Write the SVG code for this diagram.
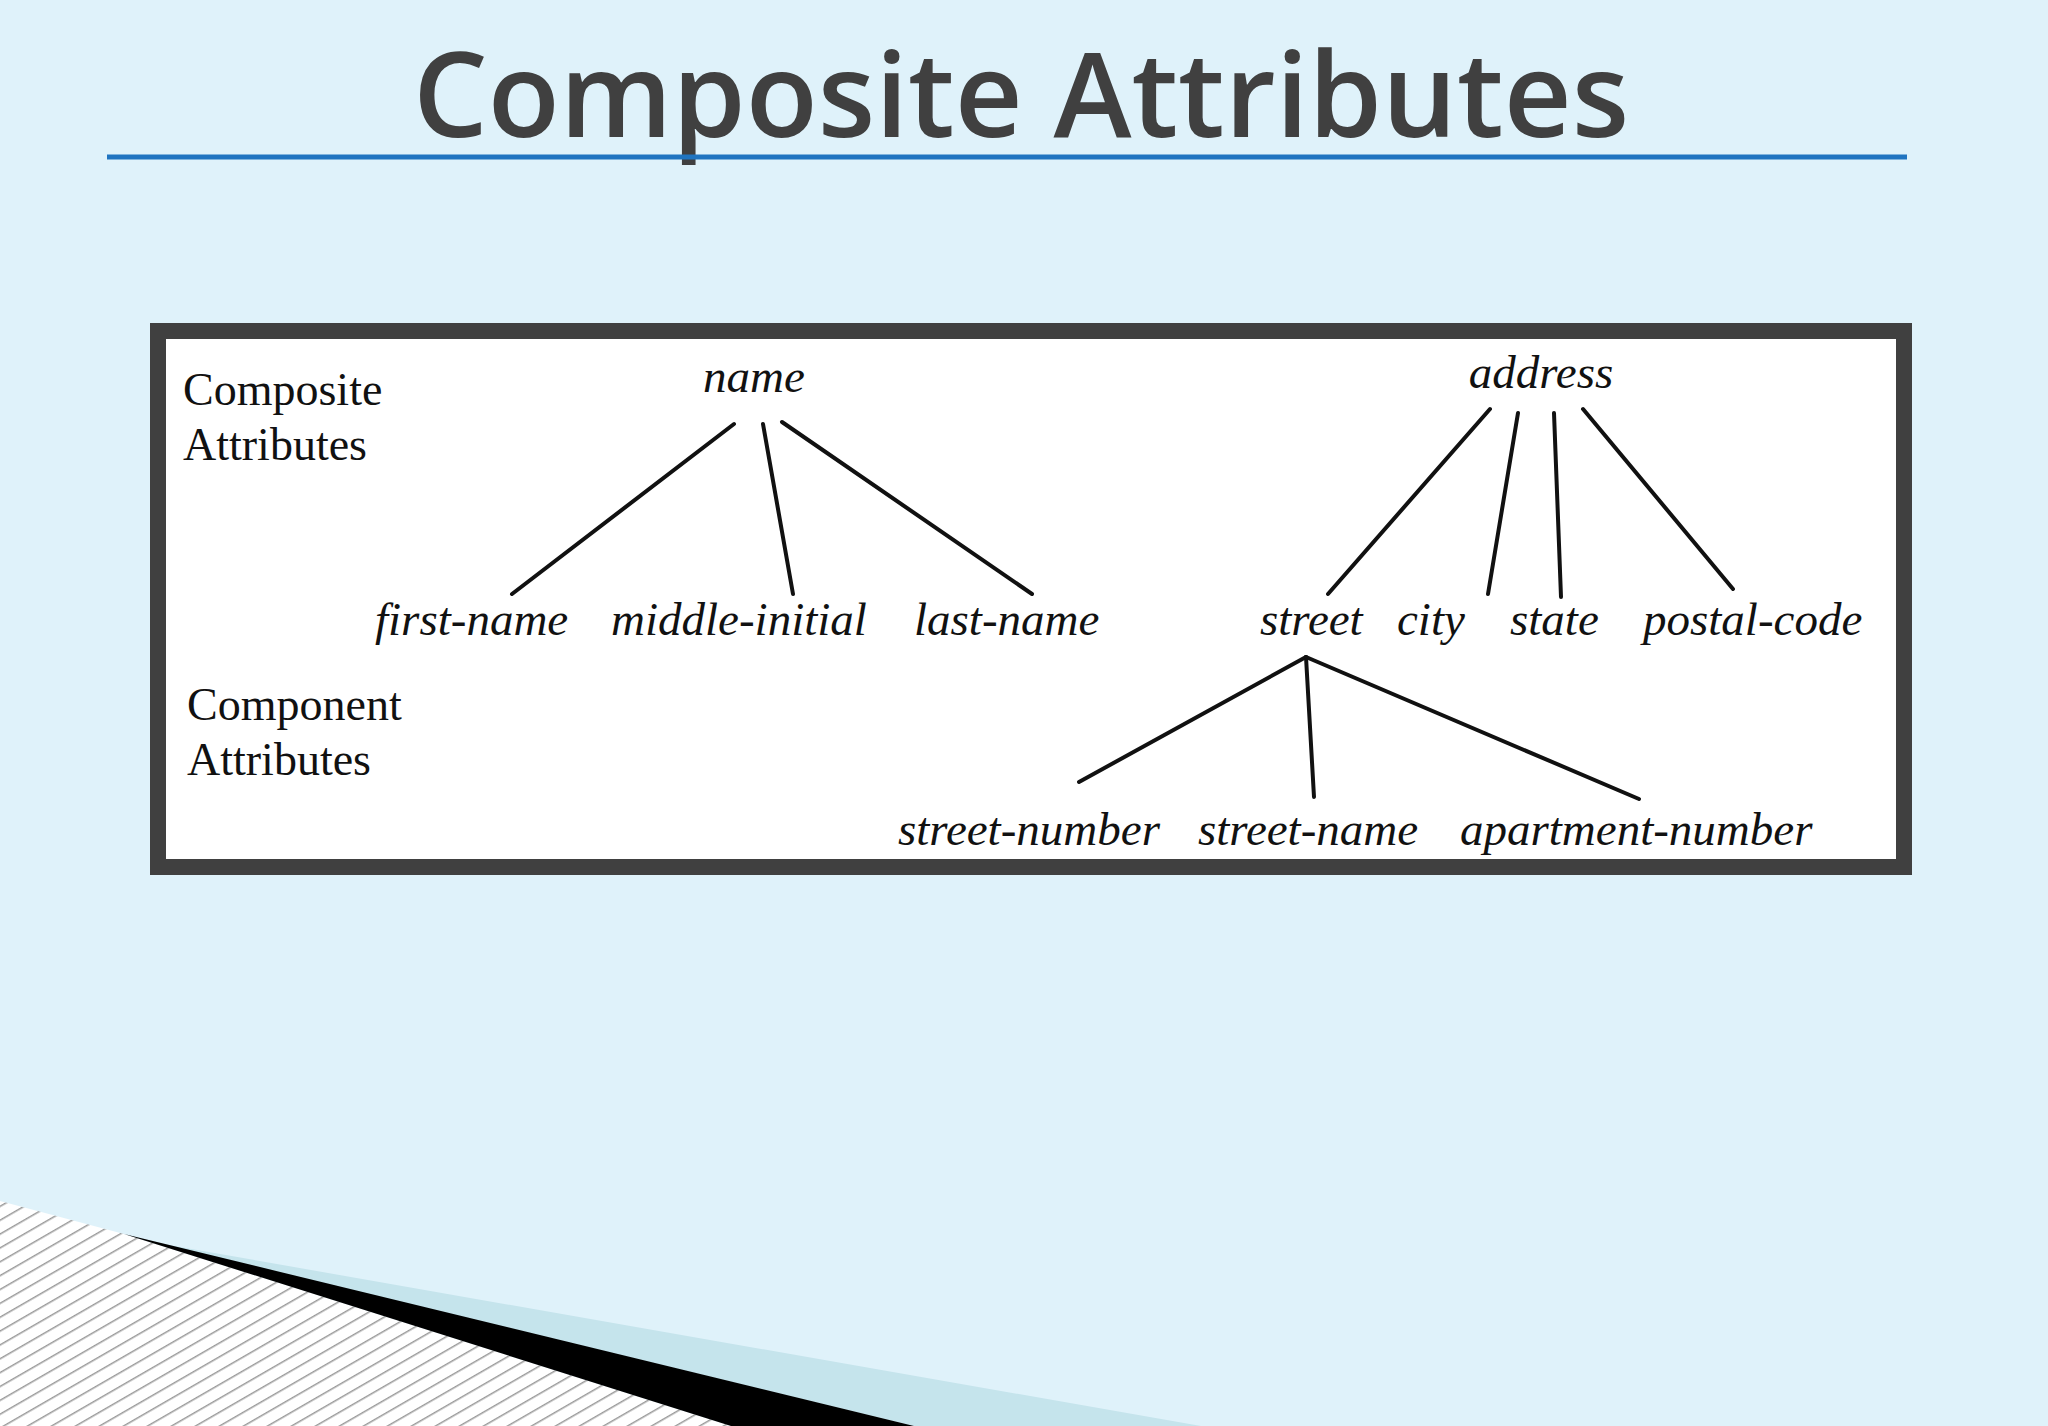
<svg xmlns="http://www.w3.org/2000/svg" width="2048" height="1426" viewBox="0 0 2048 1426">
<defs>
<style>
.lbl{font-family:"Liberation Serif",serif;font-size:46px;fill:#111}
.att{font-family:"Liberation Serif",serif;font-style:italic;font-size:47px;fill:#111}
.ln{stroke:#111;stroke-width:4;stroke-linecap:round}
</style>
<pattern id="hatch" width="12" height="12" patternUnits="userSpaceOnUse" patternTransform="rotate(60)">
<rect width="12" height="12" fill="#fff"/>
<line x1="0" y1="0" x2="0" y2="12" stroke="#999" stroke-width="3"/>
</pattern>
</defs>
<rect width="2048" height="1426" fill="#dff2fa"/>
<text x="1021" y="137" text-anchor="middle" font-family="Open Sans,sans-serif" font-weight="600" font-size="118" fill="#404040">Composite Attributes</text>
<line x1="107" y1="157" x2="1907" y2="157" stroke="#1f74c0" stroke-width="5"/>
<polygon points="0,1201 124,1234 731,1426 0,1426" fill="url(#hatch)"/>
<polygon points="157,1243 1201,1426 914,1426" fill="#c5e4ec"/>
<polygon points="124,1234 914,1426 731,1426" fill="#000"/>
<g id="box"><rect x="158" y="331" width="1746" height="536" fill="#fff" stroke="#404040" stroke-width="16"/></g>
<g id="labels">
<text class="lbl" x="183" y="405">Composite</text>
<text class="lbl" x="183" y="460">Attributes</text>
<text class="lbl" x="187" y="720">Component</text>
<text class="lbl" x="187" y="775">Attributes</text>
</g>
<g id="name"><text class="att" x="754" y="392" text-anchor="middle">name</text></g>
<g id="address"><text class="att" x="1541" y="388" text-anchor="middle">address</text></g>
<g id="first-name"><text class="att" x="375" y="635">first-name</text></g>
<g id="middle-initial"><text class="att" x="611" y="635">middle-initial</text></g>
<g id="last-name"><text class="att" x="914" y="635">last-name</text></g>
<g id="street"><text class="att" x="1260" y="635">street</text></g>
<g id="city"><text class="att" x="1397" y="635">city</text></g>
<g id="state"><text class="att" x="1510" y="635">state</text></g>
<g id="postal-code"><text class="att" x="1643" y="635">postal-code</text></g>
<g id="street-number"><text class="att" x="898" y="845">street-number</text></g>
<g id="street-name"><text class="att" x="1198" y="845">street-name</text></g>
<g id="apartment-number"><text class="att" x="1460" y="845">apartment-number</text></g>
<g id="connectors">
<line class="ln" x1="734" y1="424" x2="512" y2="594"/>
<line class="ln" x1="763" y1="424" x2="793" y2="594"/>
<line class="ln" x1="782" y1="422" x2="1032" y2="594"/>
<line class="ln" x1="1490" y1="409" x2="1328" y2="594"/>
<line class="ln" x1="1518" y1="413" x2="1488" y2="594"/>
<line class="ln" x1="1554" y1="413" x2="1561" y2="597"/>
<line class="ln" x1="1583" y1="409" x2="1733" y2="589"/>
<line class="ln" x1="1306" y1="657" x2="1079" y2="782"/>
<line class="ln" x1="1306" y1="657" x2="1314" y2="797"/>
<line class="ln" x1="1306" y1="657" x2="1639" y2="799"/>
</g>
</svg>
